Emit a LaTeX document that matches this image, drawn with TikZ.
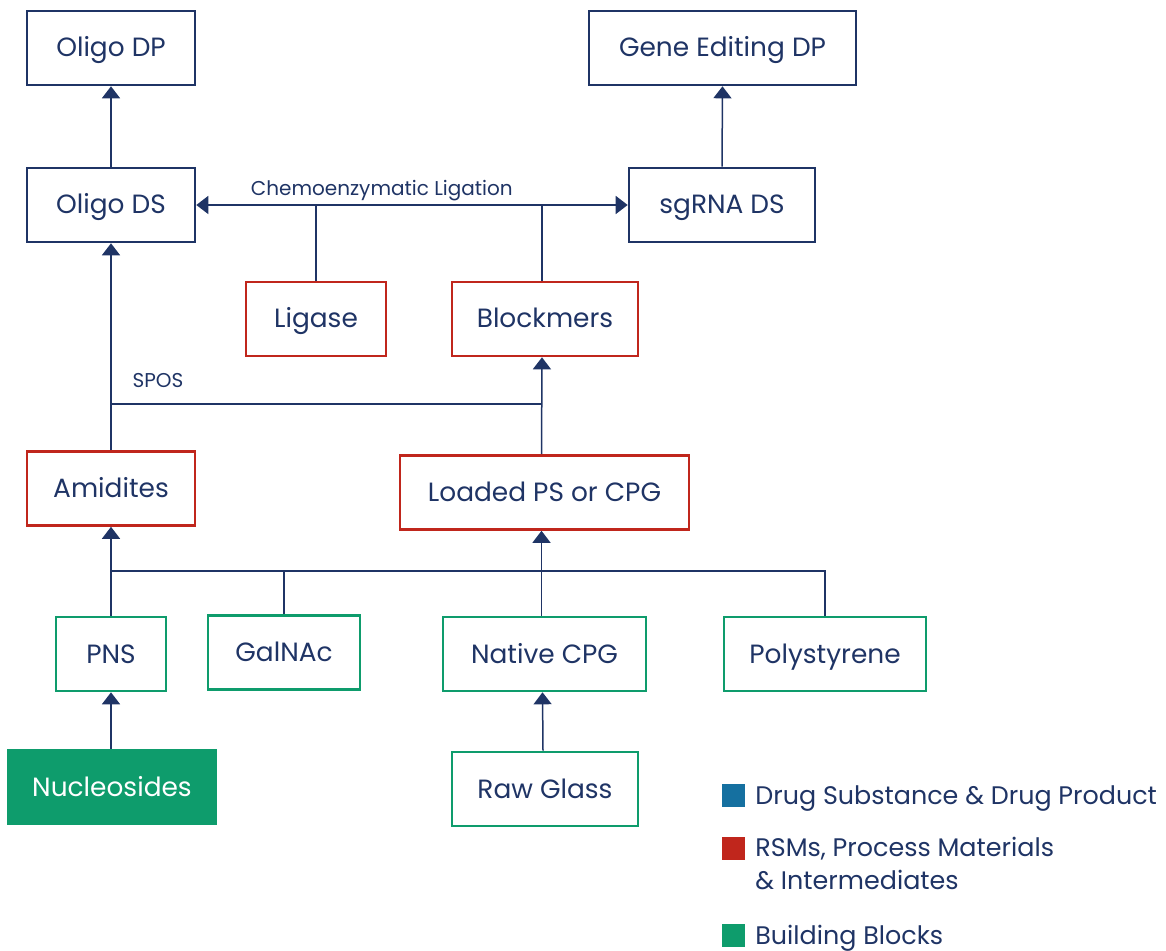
\documentclass[tikz,border=0pt]{standalone}
\usepackage{fontspec}
\setmainfont{Poppins}
\usetikzlibrary{arrows.meta}

\definecolor{dpNavy}{HTML}{1F3465}
\definecolor{rsmRed}{HTML}{C0261C}
\definecolor{bbGreen}{HTML}{0E9C6C}
\definecolor{dsBlue}{HTML}{1570A0}

\tikzset{
  box/.style={draw,line width=1.3pt,text=dpNavy,font=\fontsize{13.2}{15}\selectfont,
    minimum height=37pt,inner sep=0pt,text height=0.9em,text depth=0pt},
  dpbox/.style={box,draw=dpNavy},
  rsmbox/.style={box,draw=rsmRed},
  bbbox/.style={box,draw=bbGreen},
  bbfill/.style={box,draw=bbGreen,fill=bbGreen,text=white},
  link/.style={draw=dpNavy,line width=0.75pt},
  steplabel/.style={text=dpNavy,font=\fontsize{10}{12}\selectfont},
  keysq/.style={minimum size=11.5pt,inner sep=0pt},
  keytext/.style={text=dpNavy,font=\fontsize{12.7}{16.5}\selectfont,align=left}
}

\begin{document}
\begin{tikzpicture}[x=0.5pt,y=-0.5pt,>={Triangle[width=9pt,length=6pt]}]
\useasboundingbox (0,0) rectangle (1166,951);
% drug product / drug substance
\node[dpbox,minimum width=84pt]   (oligodp) at (111,48)  {Oligo DP};
\node[dpbox,minimum width=133.5pt] (genedp) at (722.5,48) {Gene Editing DP};
\node[dpbox,minimum width=84pt]   (oligods) at (111,205) {Oligo DS};
\node[dpbox,minimum width=93pt]   (sgrna)   at (722,205) {sgRNA DS};
% RSMs, process materials, intermediates
\node[rsmbox,minimum width=70pt]    (ligase)    at (316,319)   {Ligase};
\node[rsmbox,minimum width=93pt]    (blockmers) at (545,319)   {Blockmers};
\node[rsmbox,minimum width=84pt]    (amidites)  at (111,488.5) {Amidites};
\node[rsmbox,minimum width=144.5pt] (loaded)    at (544.5,492.5) {Loaded PS or CPG};
% building blocks
\node[bbbox,minimum width=55pt]   (pns)         at (111,654)   {PNS};
\node[bbbox,minimum width=76pt]   (galnac)      at (284,652.5) {GalNAc};
\node[bbbox,minimum width=101.5pt] (nativecpg)  at (544.5,654) {Native CPG};
\node[bbbox,minimum width=101pt]  (polystyrene) at (825,654)   {Polystyrene};
\node[bbfill,minimum width=104pt] (nucleosides) at (112,787)   {Nucleosides};
\node[bbbox,minimum width=93pt]   (rawglass)    at (545,789)   {Raw Glass};

% DS -> DP
\draw[link,->] (oligods.north) -- (oligodp.south);
\draw[link,->] (sgrna.north) -- (genedp.south);
% Ligation
\draw[link,<->] (oligods.east) -- (sgrna.west)
  node[steplabel,pos=0.43,above=-1.5pt] {Chemoenzymatic Ligation};
\draw[link] (ligase.north) -- (ligase.north |- oligods.east);
\draw[link] ([xshift=-1.5pt]blockmers.north) -- ([xshift=-1.5pt]blockmers.north |- oligods.east);
% SPOS
\coordinate (spos) at (0,404);
\draw[link,->] (amidites.north) -- (oligods.south);
\draw[link,->] ([xshift=-1.5pt]loaded.north) -- ([xshift=-1.5pt]blockmers.south);
\draw[link] (amidites.north |- spos) -- ([xshift=-1.5pt]loaded.north |- spos);
\node[steplabel] (sposlabel) at (158,381) {SPOS};
% building blocks -> intermediates
\coordinate (bus) at (0,571);
\draw[link,->] (pns.north) -- (amidites.south);
\draw[link,->] ([xshift=-1.5pt]nativecpg.north) -- ([xshift=-1.5pt]loaded.south);
\draw[link] (pns.north |- bus) -- (polystyrene.north |- bus) -- (polystyrene.north);
\draw[link] (galnac.north) -- (galnac.north |- bus);
\draw[link,->] (pns.south |- nucleosides.north) -- (pns.south);
\draw[link,->] ([xshift=-1pt]rawglass.north) -- ([xshift=-1pt]nativecpg.south);

% legend
\node[keysq,fill=dsBlue]  (keyds)  at (733.5,795.5) {};
\node[keysq,fill=rsmRed]  (keyrsm) at (733.5,848.5) {};
\node[keysq,fill=bbGreen] (keybb)  at (733.5,935.5) {};
\node[keytext,anchor=west,inner sep=0pt] (keydstext) at (755,798.5) {Drug Substance \& Drug Product};
\node[keytext,anchor=north west,inner sep=0pt] (keyrsmtext) at (755,837) {RSMs, Process Materials\\\& Intermediates};
\node[keytext,anchor=west,inner sep=0pt] (keybbtext) at (755,938.5) {Building Blocks};
\end{tikzpicture}
\end{document}
